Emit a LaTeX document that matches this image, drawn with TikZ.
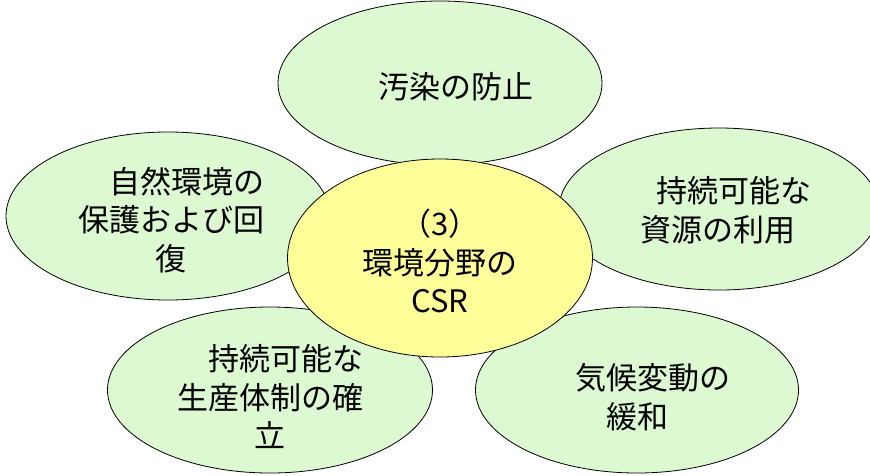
\documentclass[tikz,border=0pt]{standalone}
\usepackage{fontspec}
\newfontfamily\jpfont{Noto Sans CJK JP}
\usetikzlibrary{shapes.geometric}
\definecolor{petal}{RGB}{221,249,210}
\definecolor{hubfill}{RGB}{255,255,153}
\tikzset{
  petalshape/.style={ellipse, draw=black, line width=0.8pt, fill=petal,
    minimum width=324pt, minimum height=164pt, inner sep=0pt, outer sep=0pt},
  hubshape/.style={ellipse, draw=black, line width=0.8pt, fill=hubfill,
    minimum width=305pt, minimum height=198pt, inner sep=0pt, outer sep=0pt},
  label/.style={align=center, inner sep=0pt, font=\jpfont\fontsize{31}{38.5}\selectfont},
}
\begin{document}
\begin{tikzpicture}[x=1pt,y=-1pt]
\useasboundingbox (0,0) rectangle (870,475);
\clip (0,0) rectangle (870,475);
% petals
\node[petalshape] (top) at (440,83) {};
\node[petalshape, minimum height=168pt] (left) at (168,216) {};
\node[petalshape, minimum width=320pt, minimum height=162pt] (right) at (719,209) {};
\node[petalshape, minimum width=325pt, minimum height=166pt] (bl) at (270,390) {};
\node[petalshape, minimum width=323pt, minimum height=166pt] (br) at (637,390) {};
% hub
\node[hubshape] (hub) at (440,258) {};
% texts
\node[label] (ttop) at (456,87) {汚染の防止};
\node[label] (tleft) at (171,220) {\hspace*{32pt}自然環境の\\保護および回\\復};
\node[label] (tright) at (718,210.5) {\hspace*{32pt}持続可能な\\資源の利用};
\node[label] (tbl) at (270,397) {\hspace*{32pt}持続可能な\\生産体制の確\\立};
\node[label] (tbr) at (637,397) {\hspace*{32pt}気候変動の\\緩和};
\node[label] (thub) at (440,261) {（3）\\環境分野の\\CSR};
\end{tikzpicture}
\end{document}
